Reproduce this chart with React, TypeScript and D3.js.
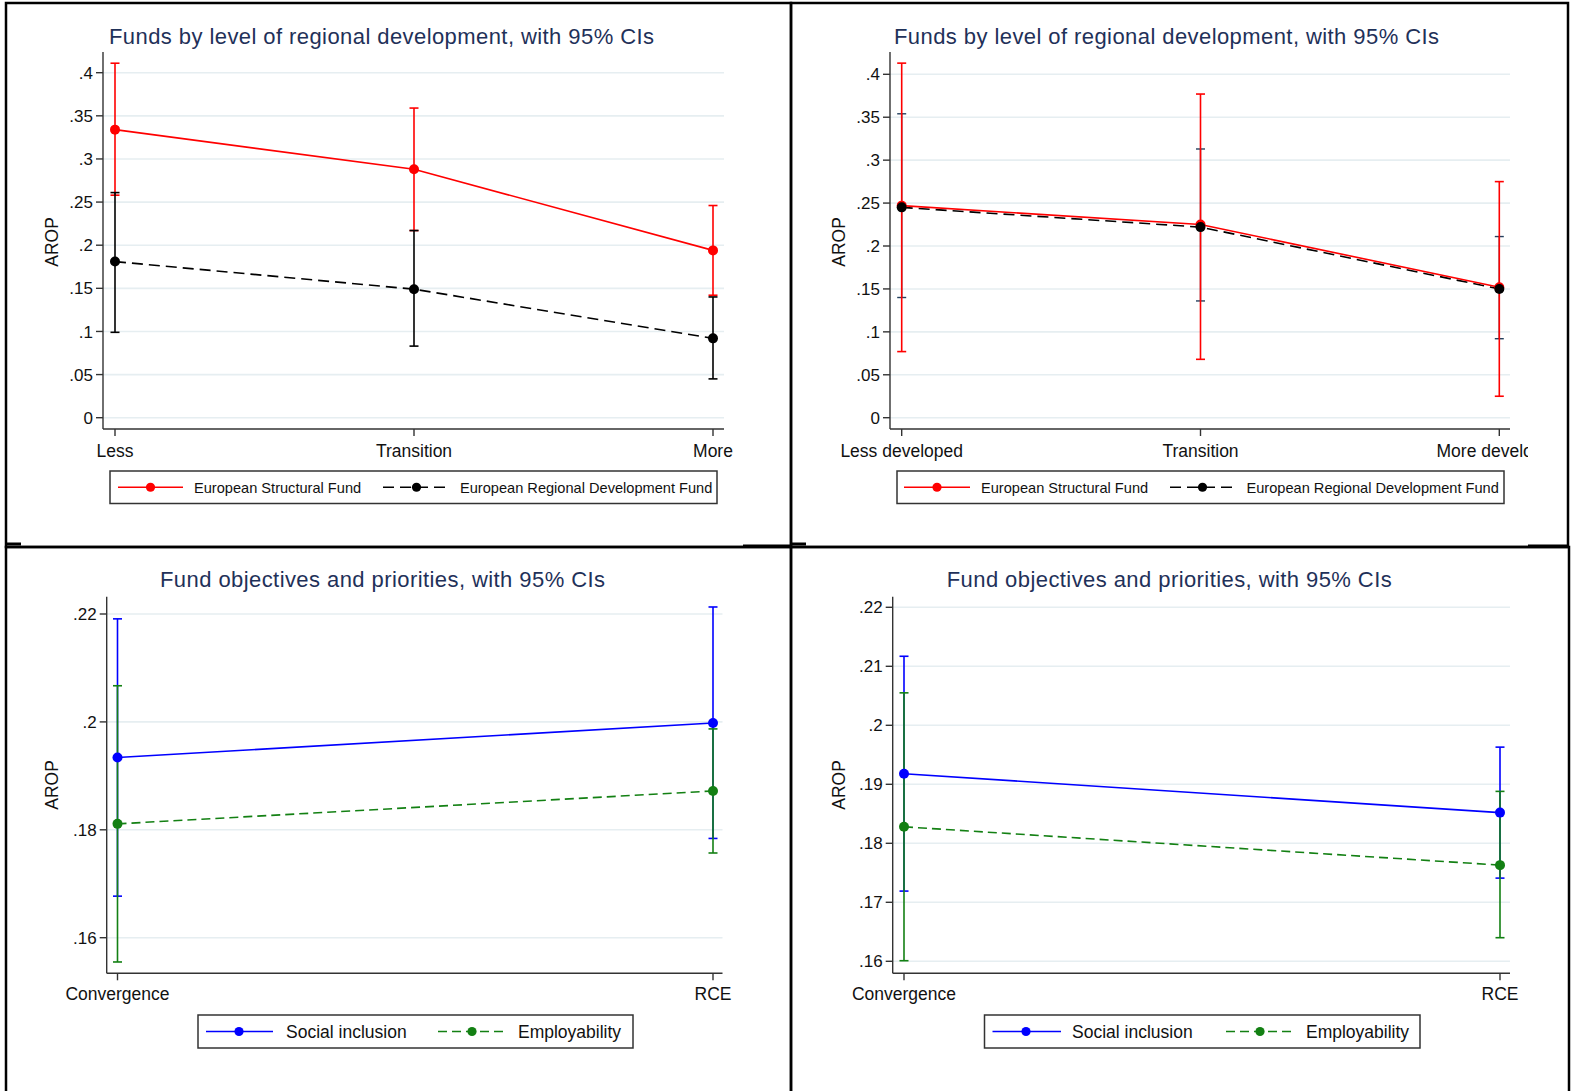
import React from "react";
import * as d3 from "d3";

// categories
const devShort = ["Less", "Transition", "More"];
const devLong = ["Less developed", "Transition", "More developed"];
const objectives = ["Convergence", "RCE"];

// y ticks
const topTicks = [0, 0.05, 0.1, 0.15, 0.2, 0.25, 0.3, 0.35, 0.4];
const topTickLabels = ["0", ".05", ".1", ".15", ".2", ".25", ".3", ".35", ".4"];
const bottomLeftTicks = [0.16, 0.18, 0.2, 0.22];
const bottomLeftTickLabels = [".16", ".18", ".2", ".22"];
const bottomRightTicks = [0.16, 0.17, 0.18, 0.19, 0.2, 0.21, 0.22];
const bottomRightTickLabels = [".16", ".17", ".18", ".19", ".2", ".21", ".22"];

// top left: funds by development level
const esfA = [0.334, 0.288, 0.194];
const esfALo = [0.258, 0.217, 0.142];
const esfAHi = [0.411, 0.359, 0.246];
const erdfA = [0.181, 0.149, 0.092];
const erdfALo = [0.099, 0.083, 0.045];
const erdfAHi = [0.261, 0.217, 0.14];

// top right
const esfB = [0.247, 0.225, 0.152];
const esfBLo = [0.077, 0.068, 0.025];
const esfBHi = [0.413, 0.377, 0.275];
const erdfB = [0.245, 0.222, 0.15];
const erdfBLo = [0.14, 0.136, 0.092];
const erdfBHi = [0.354, 0.313, 0.211];

// bottom left: objectives
const socialC = [0.1934, 0.1998];
const socialCLo = [0.1677, 0.1784];
const socialCHi = [0.2191, 0.2213];
const employC = [0.1811, 0.1872];
const employCLo = [0.1555, 0.1757];
const employCHi = [0.2067, 0.1987];

// bottom right
const socialD = [0.1918, 0.1852];
const socialDLo = [0.1719, 0.1741];
const socialDHi = [0.2117, 0.1963];
const employD = [0.1828, 0.1763];
const employDLo = [0.1601, 0.164];
const employDHi = [0.2055, 0.1888];

const FONT = "'Liberation Sans', Arial, Helvetica, sans-serif";
const TITLE_COLOR = "#1f3159";
const GRID = "#e6eef1";
const AXIS = "#333";

const titleA = "Funds by level of regional development, with 95% CIs";
const titleC = "Fund objectives and priorities, with 95% CIs";

function Panel({ cfg }: { cfg: any }) {
  const y = d3.scaleLinear().domain(cfg.yDomain).range(cfg.yRange);
  const x = d3.scalePoint<string>().domain(cfg.cats).range(cfg.xRange);
  const px = (i: number) => x(cfg.cats[i]) as number;
  const line = d3
    .line<number>()
    .x((_, i) => px(i))
    .y((d) => y(d));
  const p = cfg.plot;
  const ciOrder: number[] = cfg.ciOrder || cfg.series.map((_: any, i: number) => i);
  const lineOrder: number[] = cfg.series.map((_: any, i: number) => i).reverse();
  const clipId = "clip" + cfg.id;
  const cap = 4.5;

  return (
    <g fontFamily={FONT}>
      <defs>
        <clipPath id={clipId}>
          <rect x={cfg.border[0]} y={cfg.border[1]} width={cfg.clipRight - cfg.border[0]} height={cfg.border[3] - cfg.border[1]} />
        </clipPath>
      </defs>
      <text x={cfg.titleX} y={cfg.titleY} fontSize={22} fill={TITLE_COLOR} textLength={cfg.titleLen} lengthAdjust="spacing">
        {cfg.title}
      </text>
      {/* grid */}
      {cfg.ticks.map((t: number) => (
        <line key={"g" + t} x1={p.left} x2={p.right} y1={y(t)} y2={y(t)} stroke={GRID} strokeWidth={1.6} />
      ))}
      {/* y axis */}
      <line x1={p.left} x2={p.left} y1={p.top} y2={p.bottom} stroke={AXIS} strokeWidth={1.4} />
      {cfg.ticks.map((t: number, i: number) => (
        <g key={"t" + t}>
          <line x1={p.left - 7} x2={p.left} y1={y(t)} y2={y(t)} stroke={AXIS} strokeWidth={1.4} />
          <text x={p.left - 10} y={y(t)} dy="0.36em" textAnchor="end" fontSize={17} fill="#111">
            {cfg.tickLabels[i]}
          </text>
        </g>
      ))}
      <text
        transform={`translate(${cfg.ylabX},${cfg.ylabY}) rotate(-90)`}
        textAnchor="middle"
        fontSize={17.5}
        fill="#111"
      >
        AROP
      </text>
      {/* x axis */}
      <line x1={p.left} x2={p.right} y1={p.bottom} y2={p.bottom} stroke={AXIS} strokeWidth={1.4} />
      <g clipPath={`url(#${clipId})`}>
        {cfg.cats.map((c: string, i: number) => (
          <g key={c}>
            <line x1={px(i)} x2={px(i)} y1={p.bottom} y2={p.bottom + 7} stroke={AXIS} strokeWidth={1.4} />
            <text x={px(i)} y={cfg.catY} textAnchor="middle" fontSize={17.5} fill="#111">
              {c}
            </text>
          </g>
        ))}
      </g>
      {/* confidence intervals */}
      {ciOrder.map((si) => {
        const s = cfg.series[si];
        return (
          <g key={"ci" + si} stroke={s.ciColor} strokeWidth={s.ciWidth || 1.6}>
            {s.mean.map((_: number, i: number) => (
              <g key={i}>
                <line x1={px(i)} x2={px(i)} y1={y(s.lo[i])} y2={y(s.hi[i])} />
                <line x1={px(i) - cap} x2={px(i) + cap} y1={y(s.lo[i])} y2={y(s.lo[i])} />
                <line x1={px(i) - cap} x2={px(i) + cap} y1={y(s.hi[i])} y2={y(s.hi[i])} />
              </g>
            ))}
          </g>
        );
      })}
      {/* connecting lines */}
      {lineOrder.map((si) => {
        const s = cfg.series[si];
        return (
          <path key={"l" + si} d={line(s.mean) || ""} fill="none" stroke={s.color} strokeWidth={1.6} strokeDasharray={s.dash} />
        );
      })}
      {cfg.series.map((s: any, si: number) =>
        s.mean.map((v: number, i: number) => <circle key={"m" + si + i} cx={px(i)} cy={y(v)} r={5} fill={s.color} />)
      )}
      {/* legend */}
      <rect
        x={cfg.legend.x0}
        y={cfg.legend.y0}
        width={cfg.legend.x1 - cfg.legend.x0}
        height={cfg.legend.y1 - cfg.legend.y0}
        fill="white"
        stroke={AXIS}
        strokeWidth={1.5}
      />
      {cfg.series.map((s: any, si: number) => {
        const it = cfg.legend.items[si];
        const cy = (cfg.legend.y0 + cfg.legend.y1) / 2;
        return (
          <g key={"lg" + si}>
            <line x1={it.l0} x2={it.l1} y1={cy} y2={cy} stroke={s.color} strokeWidth={1.6} strokeDasharray={s.dash} />
            <circle cx={it.m} cy={cy} r={4.6} fill={s.color} />
            <text x={it.t} y={cy} dy="0.36em" fontSize={cfg.legend.fontSize} fill="#111">
              {s.name}
            </text>
          </g>
        );
      })}
    </g>
  );
}

const panels = [
  {
    id: "A",
    title: titleA,
    titleX: 109,
    titleY: 43.5,
    titleLen: 545,
    cats: devShort,
    xRange: [115, 713],
    yDomain: [0, 0.4],
    yRange: [417.7, 72.7],
    ticks: topTicks,
    tickLabels: topTickLabels,
    plot: { left: 103, right: 724, top: 52, bottom: 429 },
    border: [6, 3, 791, 547],
    clipRight: 791,
    ylabX: 58,
    ylabY: 242,
    catY: 456.5,
    series: [
      { name: "European Structural Fund", color: "#ff0000", ciColor: "#ff0000", mean: esfA, lo: esfALo, hi: esfAHi },
      { name: "European Regional Development Fund", color: "#000", ciColor: "#000", dash: "11,6", mean: erdfA, lo: erdfALo, hi: erdfAHi },
    ],
    legend: {
      x0: 110, x1: 717, y0: 471, y1: 503.5, fontSize: 14.6,
      items: [
        { l0: 118, l1: 183, m: 150.5, t: 194 },
        { l0: 383, l1: 448, m: 416.5, t: 460 },
      ],
    },
  },
  {
    id: "B",
    title: titleA,
    titleX: 894,
    titleY: 43.5,
    titleLen: 545,
    cats: devLong,
    xRange: [901.7, 1499.3],
    yDomain: [0, 0.4],
    yRange: [417.7, 74.3],
    ticks: topTicks,
    tickLabels: topTickLabels,
    plot: { left: 890, right: 1510, top: 52, bottom: 429 },
    border: [791, 3, 1568, 547],
    clipRight: 1528,
    ylabX: 845,
    ylabY: 242,
    catY: 456.5,
    ciOrder: [1, 0],
    series: [
      { name: "European Structural Fund", color: "#ff0000", ciColor: "#ff0000", mean: esfB, lo: esfBLo, hi: esfBHi },
      { name: "European Regional Development Fund", color: "#000", ciColor: "#23405e", ciWidth: 1.4, dash: "11,6", mean: erdfB, lo: erdfBLo, hi: erdfBHi },
    ],
    legend: {
      x0: 897, x1: 1504, y0: 471, y1: 503.5, fontSize: 14.6,
      items: [
        { l0: 904, l1: 970, m: 937, t: 981 },
        { l0: 1170, l1: 1235, m: 1202.5, t: 1246.5 },
      ],
    },
  },
  {
    id: "C",
    title: titleC,
    titleX: 160,
    titleY: 586.7,
    titleLen: 445,
    cats: objectives,
    xRange: [117.5, 713],
    yDomain: [0.16, 0.22],
    yRange: [937.7, 614],
    ticks: bottomLeftTicks,
    tickLabels: bottomLeftTickLabels,
    plot: { left: 106.7, right: 722.5, top: 596.7, bottom: 973.3 },
    border: [6, 547, 791, 1100],
    clipRight: 791,
    ylabX: 58.3,
    ylabY: 785,
    catY: 1000,
    series: [
      { name: "Social inclusion", color: "#0000ff", ciColor: "#0000ff", mean: socialC, lo: socialCLo, hi: socialCHi },
      { name: "Employability", color: "#138013", ciColor: "#138013", dash: "9,5", mean: employC, lo: employCLo, hi: employCHi },
    ],
    legend: {
      x0: 198, x1: 633, y0: 1015, y1: 1048, fontSize: 17.5,
      items: [
        { l0: 206, l1: 273, m: 239, t: 286 },
        { l0: 438, l1: 506, m: 472, t: 518 },
      ],
    },
  },
  {
    id: "D",
    title: titleC,
    titleX: 946.7,
    titleY: 586.7,
    titleLen: 445,
    cats: objectives,
    xRange: [904, 1500],
    yDomain: [0.16, 0.22],
    yRange: [961.3, 607.3],
    ticks: bottomRightTicks,
    tickLabels: bottomRightTickLabels,
    plot: { left: 892.7, right: 1510, top: 596.7, bottom: 973.3 },
    border: [791, 547, 1569, 1100],
    clipRight: 1569,
    ylabX: 845,
    ylabY: 785,
    catY: 1000,
    series: [
      { name: "Social inclusion", color: "#0000ff", ciColor: "#0000ff", mean: socialD, lo: socialDLo, hi: socialDHi },
      { name: "Employability", color: "#138013", ciColor: "#138013", dash: "9,5", mean: employD, lo: employDLo, hi: employDHi },
    ],
    legend: {
      x0: 984.5, x1: 1420, y0: 1015, y1: 1048, fontSize: 17.5,
      items: [
        { l0: 992.5, l1: 1061, m: 1026, t: 1072 },
        { l0: 1226, l1: 1293.5, m: 1260, t: 1306 },
      ],
    },
  },
];

export default function App() {
  return (
    <svg
      width={1573}
      height={1091}
      style={{ position: "absolute", left: 0, top: 0, display: "block", background: "white" }}
    >
      <rect x={0} y={0} width={1573} height={1091} fill="white" />
      {panels.map((cfg) => (
        <Panel key={cfg.id} cfg={cfg} />
      ))}
      {/* panel frames */}
      <g fill="none" stroke="#000" strokeWidth={2.5}>
        <rect x={6} y={3} width={785} height={544} />
        <rect x={791} y={3} width={777} height={544} />
        <rect x={6} y={547} width={785} height={560} />
        <rect x={791} y={547} width={778} height={560} />
      </g>
      <g stroke="#000" strokeWidth={3}>
        <line x1={743} x2={791} y1={546} y2={546} />
        <line x1={1528} x2={1568} y1={546} y2={546} />
        <line x1={5} x2={21} y1={544} y2={544} />
        <line x1={790} x2={806} y1={544} y2={544} />
      </g>
    </svg>
  );
}
